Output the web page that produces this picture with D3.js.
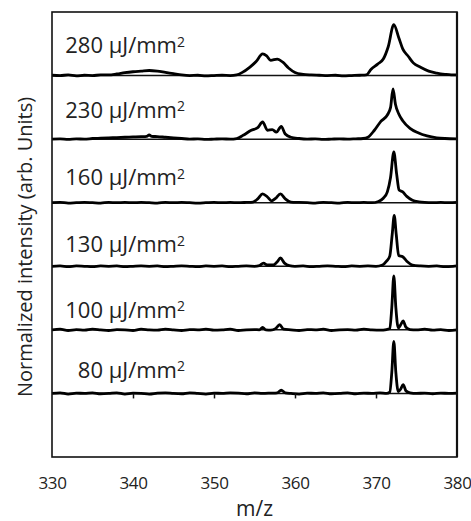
<!DOCTYPE html>
<html>
<head>
<meta charset="utf-8">
<script src="https://cdn.jsdelivr.net/npm/d3@7"></script>
<style>
  body { margin: 0; background: #fff; }
  svg text { font-family: "Open Sans", sans-serif; fill: #222; }
</style>
</head>
<body>
<div id="chart-area"></div>
<script>

// Chart data: m/z ticks, fluences (top to bottom) and one spectrum per fluence
var mzTicks = [330, 340, 350, 360, 370, 380];
var fluences = [280, 230, 160, 130, 100, 80];

var spec280 = [[330,0.005],[331,0.0],[332,0.01],[333,-0.005],[334,0.005],[335,0.0],[336,0.01],[337,0.01],[338,0.025],[339,0.045],[340,0.06],[341,0.07],[342,0.08],[343,0.07],[344,0.05],[345,0.03],[346,0.01],[347,0.0],[348,0.005],[349,-0.005],[350,0.0],[351,0.005],[352,0.0],[352.8,0.01],[353.5,0.05],[354.4,0.13],[355.2,0.22],[356,0.34],[356.5,0.31],[357,0.24],[357.8,0.26],[358.5,0.21],[359.2,0.12],[360,0.05],[361,0.02],[362,0.01],[363,0.005],[364,0.0],[365,0.005],[366,-0.005],[367,0.0],[368,0.005],[368.8,0.01],[369.4,0.1],[370.2,0.18],[370.9,0.26],[371.5,0.45],[372.2,0.8],[372.8,0.6],[373.3,0.42],[374,0.3],[374.6,0.2],[375.5,0.13],[376.5,0.07],[377.5,0.04],[378.5,0.02],[379.3,0.01],[380,0.01]];

var spec230 = [[330,0.0],[331,0.005],[332,-0.005],[333,0.005],[334,0.0],[335,0.01],[336,0.015],[337,0.02],[338,0.025],[339,0.03],[340,0.035],[341,0.04],[341.7,0.045],[342,0.065],[342.3,0.045],[343,0.04],[344,0.03],[345,0.02],[346,0.01],[347,0.0],[348,0.005],[349,-0.005],[350,0.0],[351,0.005],[352,0.0],[352.8,0.01],[353.6,0.06],[354.6,0.14],[355.4,0.18],[356,0.27],[356.6,0.14],[357.2,0.15],[357.7,0.11],[358.3,0.2],[358.8,0.08],[359.5,0.03],[360.5,0.01],[361.5,0.0],[362.5,0.005],[363.5,-0.005],[364.5,0.0],[365.5,0.005],[366.5,0.0],[367.5,0.005],[368.4,0.01],[369,0.03],[369.8,0.14],[370.6,0.28],[371.4,0.38],[371.8,0.5],[372.1,0.79],[372.4,0.55],[372.8,0.4],[373.3,0.29],[374.2,0.17],[375.2,0.1],[376.3,0.05],[377.5,0.02],[378.5,0.01],[380,0.005]];

var spec160 = [[330,0.0],[331,0.005],[332,-0.005],[333,0.0],[334,0.005],[335,0.0],[336,-0.005],[337,0.005],[338,0.0],[339,0.005],[340,0.0],[341,0.005],[342,0.0],[343,-0.005],[344,0.005],[345,0.0],[346,0.005],[347,0.0],[348,-0.005],[349,0.0],[350,0.005],[351,0.0],[352,0.005],[353,0.0],[354,0.005],[354.8,0.01],[355.4,0.06],[356,0.14],[356.6,0.09],[357.1,0.03],[357.6,0.07],[358.2,0.14],[358.8,0.06],[359.5,0.01],[360.5,0.005],[361.5,0.0],[362.5,-0.005],[363.5,0.005],[364.5,0.0],[365.5,-0.005],[366.5,0.005],[367.5,0.0],[368.5,0.005],[369.5,0.0],[370.3,0.02],[370.9,0.07],[371.4,0.17],[371.8,0.4],[372.2,0.8],[372.55,0.45],[372.85,0.2],[373.3,0.17],[373.8,0.1],[374.5,0.04],[375.3,0.015],[376,0.005],[377,0.0],[378,0.005],[379,0.0],[380,0.005]];

var spec130 = [[330,0.0],[331,0.005],[332,-0.005],[333,0.005],[334,0.0],[335,-0.005],[336,0.005],[337,0.0],[338,0.005],[339,-0.005],[340,0.0],[341,0.005],[342,0.0],[343,0.005],[344,-0.005],[345,0.0],[346,0.005],[347,0.0],[348,-0.005],[349,0.005],[350,0.0],[351,0.005],[352,-0.005],[353,0.0],[354,0.005],[355,0.0],[355.6,0.01],[356.1,0.05],[356.6,0.02],[357.3,0.02],[357.8,0.07],[358.2,0.13],[358.7,0.05],[359.3,0.01],[360,0.0],[361,0.005],[362,-0.005],[363,0.0],[364,0.005],[365,0.0],[366,-0.005],[367,0.005],[368,0.0],[369,0.005],[370,0.0],[370.8,0.02],[371.3,0.08],[371.7,0.16],[372,0.5],[372.25,0.8],[372.5,0.5],[372.8,0.17],[373.3,0.15],[373.8,0.08],[374.5,0.02],[375.5,0.005],[376.5,0.0],[377.5,0.005],[378.5,-0.005],[379.5,0.0],[380,0.005]];

var spec100 = [[330,0.0],[331,0.01],[332,-0.01],[333,0.005],[334,-0.005],[335,0.01],[336,0.0],[337,-0.01],[338,0.005],[339,0.0],[340,-0.01],[341,0.01],[342,0.0],[343,-0.005],[344,0.01],[345,0.0],[346,-0.01],[347,0.005],[348,0.0],[349,0.01],[350,-0.005],[351,0.0],[352,0.01],[353,-0.01],[354,0.0],[355,0.005],[355.6,0.0],[356,0.04],[356.4,0.0],[357,-0.005],[357.6,0.02],[358.1,0.08],[358.6,0.01],[359.5,0.0],[360.5,-0.01],[361.5,0.005],[362.5,0.0],[363.5,0.01],[364.5,-0.01],[365.5,0.0],[366.5,0.005],[367.5,-0.005],[368.5,0.01],[369.5,0.0],[370.5,-0.005],[371.3,0.005],[371.7,0.02],[371.95,0.35],[372.2,0.85],[372.45,0.35],[372.75,0.03],[373.05,0.08],[373.35,0.14],[373.7,0.04],[374.2,0.005],[375,0.0],[376,0.01],[377,-0.005],[378,0.005],[379,-0.01],[380,0.0]];

var spec80 = [[330,0.0],[331,0.01],[332,-0.01],[333,0.005],[334,0.0],[335,0.01],[336,-0.005],[337,0.0],[338,0.01],[339,-0.01],[340,0.005],[341,0.0],[342,-0.01],[343,0.005],[344,0.01],[345,0.0],[346,-0.005],[347,0.01],[348,0.0],[349,-0.01],[350,0.005],[351,0.0],[352,0.01],[353,0.005],[354,-0.005],[355,0.01],[356,0.0],[357,0.005],[357.8,0.01],[358.3,0.05],[358.8,0.01],[359.5,0.0],[360.5,-0.01],[361.5,0.005],[362.5,0.0],[363.5,0.01],[364.5,-0.005],[365.5,0.0],[366.5,0.01],[367.5,-0.005],[368.5,0.005],[369.5,0.0],[370.5,0.01],[371.3,0.0],[371.7,0.02],[371.95,0.33],[372.2,0.82],[372.45,0.33],[372.75,0.03],[373.05,0.07],[373.35,0.14],[373.7,0.04],[374.2,0.01],[375,0.0],[376,0.005],[377,-0.005],[378,0.005],[379,0.0],[380,0.005]];

var spectra = [spec280, spec230, spec160, spec130, spec100, spec80];

// SVG size
var width = 471,
    height = 521;

var margin = { left: 52, right: 14, top: 12, bottom: 64 };

var svg = d3.select("#chart-area").append("svg")
    .attr("width", width)
    .attr("height", height);

// X scale (m/z)
var x = d3.scaleLinear()
    .domain([330, 380])
    .range([margin.left, width - margin.right]);

// Y scale: each spectrum sits on its own integer offset
var y = d3.scaleLinear()
    .domain([0, 7])
    .range([height - margin.bottom, margin.top]);

// label lift above each baseline (in y units)
var labelLift = [0.35, 0.34, 0.28, 0.22, 0.19, 0.25];

var line = d3.line()
    .curve(d3.curveMonotoneX);

spectra.forEach(function(spec, i) {
  var off = spectra.length - i;

  // thin baseline across the plot
  svg.append("line")
      .attr("x1", x(330)).attr("x2", x(380))
      .attr("y1", y(off)).attr("y2", y(off))
      .attr("stroke", "#111")
      .attr("stroke-width", 1.5);

  svg.append("path")
      .datum(spec)
      .attr("fill", "none")
      .attr("stroke", "#000")
      .attr("stroke-width", 2.8)
      .attr("stroke-linejoin", "round")
      .attr("d", line.x(function(d){ return x(d[0]); })
                     .y(function(d){ return y(off + d[1]); }));

  var t = svg.append("text")
      .attr("x", 185)
      .attr("y", y(off + labelLift[i]))
      .style("text-anchor", "end")
      .style("font-size", "22px")
      .text(fluences[i] + " \u03bcJ/mm");
  t.append("tspan")
      .attr("dy", "-0.45em")
      .style("font-size", "14px")
      .text("2");
});

// Tick marks sit on the lowest spectrum's baseline
var tickAxis = d3.axisBottom(x)
    .tickValues(mzTicks.slice(1, -1))
    .tickSizeInner(5)
    .tickSizeOuter(0)
    .tickFormat("");

svg.append("g")
    .attr("class", "x axis")
    .attr("transform", "translate(0," + y(1) + ")")
    .call(tickAxis)
    .call(function(g){ g.select(".domain").remove(); })
    .selectAll("line").attr("stroke", "#111").attr("stroke-width", 1.5);

// Tick labels below the frame
var labelAxis = d3.axisBottom(x)
    .tickValues(mzTicks)
    .tickSize(0)
    .tickPadding(20);

svg.append("g")
    .attr("class", "x labels")
    .attr("transform", "translate(0," + y(0) + ")")
    .call(labelAxis)
    .call(function(g){ g.select(".domain").remove(); })
    .selectAll("text")
      .style("font-family", "Open Sans, sans-serif")
      .style("font-size", "17px")
      .style("letter-spacing", "-0.3px")
      .attr("fill", "#222");

// Frame
svg.append("rect")
    .attr("x", x(330))
    .attr("y", y(7))
    .attr("width", x(380) - x(330))
    .attr("height", y(0) - y(7))
    .attr("fill", "none")
    .attr("stroke", "#111")
    .attr("stroke-width", 1.6);

svg.append("line")
    .attr("x1", x(380)).attr("x2", x(380))
    .attr("y1", y(7)).attr("y2", y(0))
    .attr("stroke", "#111")
    .attr("stroke-width", 2.2);

// Axis titles
svg.append("text")
    .attr("x", (x(330) + x(380)) / 2)
    .attr("y", 516)
    .style("text-anchor", "middle")
    .style("font-size", "21px")
    .text("m/z");

svg.append("text")
    .attr("transform", "rotate(-90)")
    .attr("x", -247)
    .attr("y", 32)
    .style("text-anchor", "middle")
    .style("font-size", "20px")
    .text("Normalized intensity (arb. Units)");

</script>
</body>
</html>
